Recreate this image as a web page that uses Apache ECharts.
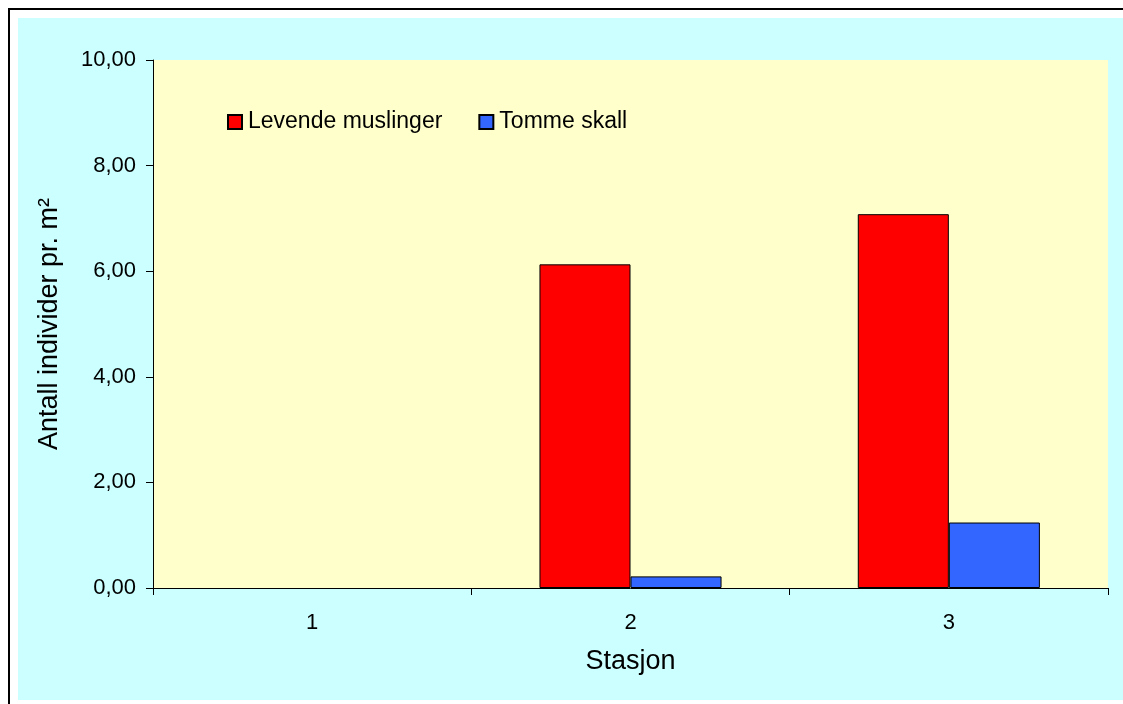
<!DOCTYPE html>
<html>
<head>
<meta charset="utf-8">
<script src="https://cdn.jsdelivr.net/npm/echarts@6/dist/echarts.min.js"></script>
<style>
html,body{margin:0;padding:0;background:#ffffff;}
#frame{position:absolute;left:8px;top:8px;width:1200px;height:800px;border-left:2px solid #000;border-top:2px solid #000;box-sizing:border-box;}
#bg{position:absolute;left:18px;top:18px;width:1105px;height:682px;background:#CCFFFF;}
#chart{position:absolute;left:0;top:0;width:1123px;height:704px;}
</style>
</head>
<body>
<div id="frame"></div>
<div id="bg"></div>
<div id="chart"></div>
<script>
const categories = ['1', '2', '3'];
const levendeMuslinger = [0, 6.13, 7.08];
const tommeSkall = [0, 0.22, 1.24];
const seriesNames = ['Levende muslinger', 'Tomme skall'];
const xTitle = 'Stasjon';
const yTitle = 'Antall individer pr. m²';

// zero-height bars are not drawn in the reference: hide their outline
const toData = arr => arr.map(v => v === 0 ? {value: v, itemStyle: {borderWidth: 0, opacity: 0}} : v);

const font = 'Liberation Sans, Arial, sans-serif';
const chart = echarts.init(document.getElementById('chart'), null, {renderer: 'canvas'});
chart.setOption({
  backgroundColor: 'transparent',
  animation: false,
  textStyle: {fontFamily: font, color: '#000'},
  grid: {left: 153, top: 60, right: 15, bottom: 116, show: true, backgroundColor: '#FFFFCC', borderWidth: 0, containLabel: false},
  legend: {
    data: seriesNames,
    left: 227, top: 110,
    itemWidth: 14, itemHeight: 14, itemGap: 36,
    icon: 'rect',
    textStyle: {fontFamily: font, fontSize: 23, color: '#000', lineHeight: 24, padding: [0,0,0,1]},
    padding: 0
  },
  xAxis: {
    type: 'category',
    data: categories,
    axisLine: {lineStyle: {color: '#000', width: 1}},
    axisTick: {show: true, length: 7, lineStyle: {color: '#000'}},
    axisLabel: {fontFamily: font, fontSize: 22, color: '#000', margin: 24},
    name: xTitle,
    nameLocation: 'middle',
    nameGap: 60,
    nameTextStyle: {fontFamily: font, fontSize: 27, color: '#000'}
  },
  yAxis: {
    type: 'value',
    min: 0, max: 10, interval: 2,
    axisLine: {show: true, lineStyle: {color: '#000', width: 1}},
    axisTick: {show: true, length: 7, lineStyle: {color: '#000'}},
    splitLine: {show: false},
    axisLabel: {fontFamily: font, fontSize: 22, color: '#000', margin: 17,
      formatter: v => v.toFixed(2).replace('.', ',')},
    name: yTitle,
    nameLocation: 'middle',
    nameRotate: 90,
    nameGap: 90,
    nameTextStyle: {fontFamily: font, fontSize: 27, color: '#000'}
  },
  series: [
    {name: seriesNames[0], type: 'bar', data: toData(levendeMuslinger), barGap: '0%', barCategoryGap: '42.8%',
     itemStyle: {color: '#FF0000', borderColor: '#000', borderWidth: 1}},
    {name: seriesNames[1], type: 'bar', data: toData(tommeSkall), barGap: '0%', barCategoryGap: '42.8%',
     itemStyle: {color: '#3366FF', borderColor: '#000', borderWidth: 1}}
  ]
});
</script>
</body>
</html>
